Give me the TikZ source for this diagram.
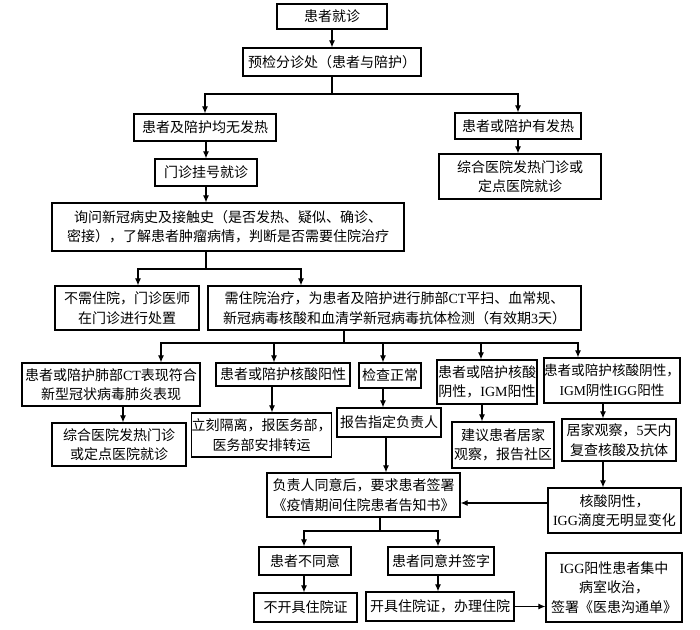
\documentclass[tikz,border=0pt]{standalone}
\usepackage{fontspec}
\setmainfont{Noto Sans CJK SC}
\newfontfamily\lat{Liberation Serif}
\usetikzlibrary{arrows.meta}
\begin{document}
\begin{tikzpicture}[x=1pt,y=-1pt,
  box/.style={draw=black,line width=1.2pt,inner sep=0pt,align=center,
    font=\fontsize{14}{19.5}\selectfont},
  arr/.style={line width=1.1pt,-{Latex[length=7pt,width=6pt]}},
  ln/.style={line width=1.1pt}]
\useasboundingbox[fill=white] (0,0) rectangle (700,629);
\node[box,minimum width=110pt,minimum height=25pt] (st) at (332,16.5) {患者就诊};
\node[box,minimum width=178pt,minimum height=28pt] (yj) at (332,62) {预检分诊处（患者与陪护）};
\node[box,minimum width=142pt,minimum height=27pt] (nf) at (205,127.5) {患者及陪护均无发热};
\node[box,minimum width=126pt,minimum height=26pt] (yf) at (518,126) {患者或陪护有发热};
\node[box,minimum width=102pt,minimum height=27pt] (mz) at (206,172.5) {门诊挂号就诊};
\node[box,minimum width=162pt,minimum height=45pt] (zh1) at (520,176.5) {综合医院发热门诊或\\定点医院就诊};
\node[box,minimum width=352pt,minimum height=48pt] (xw) at (228,227) {询问新冠病史及接触史（是否发热、疑似、确诊、\\密接），了解患者肿瘤病情，判断是否需要住院治疗};
\node[box,minimum width=144pt,minimum height=44pt] (bx) at (127,308) {不需住院，门诊医师\\在门诊进行处置};
\node[box,minimum width=373pt,minimum height=44pt] (xz) at (394.5,308) {需住院治疗，为患者及陪护进行肺部{\lat CT}平扫、血常规、\\新冠病毒核酸和血清学新冠病毒抗体检测（有效期{\lat 3}天）};
\node[box,minimum width=178pt,minimum height=43pt] (A) at (111,384.5) {患者或陪护肺部{\lat CT}表现符合\\新型冠状病毒肺炎表现};
\node[box,minimum width=134pt,minimum height=23pt] (B) at (283,374.5) {患者或陪护核酸阳性};
\node[box,minimum width=62pt,minimum height=25pt] (C) at (390,375.5) {检查正常};
\node[box,minimum width=100pt,minimum height=44pt] (D) at (487,382) {患者或陪护核酸\\阴性，{\lat IGM}阳性};
\node[box,minimum width=136pt,minimum height=45pt,font=\fontsize{13.6}{19.5}\selectfont] (E) at (612,380.5) {患者或陪护核酸阴性，\\{\lat IGM}阴性{\lat IGG}阳性};
\node[box,minimum width=134pt,minimum height=43pt] (zh2) at (119,444.5) {综合医院发热门诊\\或定点医院就诊};
\node[box,minimum width=135pt,minimum height=44pt] (gl) at (261.5,435) {立刻隔离，报医务部，\\医务部安排转运};
\node[box,minimum width=104pt,minimum height=29pt] (bg) at (389,422.5) {报告指定负责人};
\node[box,minimum width=102pt,minimum height=46pt] (jj) at (503,445) {建议患者居家\\观察，报告社区};
\node[box,minimum width=114pt,minimum height=42pt] (gc) at (619,440) {居家观察，{\lat 5}天内\\复查核酸及抗体};
\node[box,minimum width=193pt,minimum height=44pt] (fz) at (363.5,495) {负责人同意后，要求患者签署\\《疫情期间住院患者告知书》};
\node[box,minimum width=133pt,minimum height=45pt] (hs) at (614.5,510.5) {核酸阴性，\\{\lat IGG}滴度无明显变化};
\node[box,minimum width=92pt,minimum height=28pt] (bty) at (305,561) {患者不同意};
\node[box,minimum width=106pt,minimum height=28pt] (ty) at (441,561) {患者同意并签字};
\node[box,minimum width=103pt,minimum height=29pt] (bkj) at (305.5,607.5) {不开具住院证};
\node[box,minimum width=148pt,minimum height=29pt] (kj) at (440,606.5) {开具住院证，办理住院};
\node[box,minimum width=136pt,minimum height=69pt] (igg) at (614,587.5) {{\lat IGG}阳性患者集中\\病室收治，\\签署《医患沟通单》};
% junction coordinates
\coordinate (j1) at (332,94);
\coordinate (j2) at (206,269);
\coordinate (j3) at (344,343);
\coordinate (j4) at (380,531);
% connectors
\draw[arr] (st) -- (yj);
\draw[ln] (yj.south) -- (j1);
\draw[arr] (j1) -| (nf.north);
\draw[arr] (j1) -| (yf.north);
\draw[arr] (nf.south -| mz.north) -- (mz.north);
\draw[arr] (yf.south) -- (yf.south |- zh1.north);
\draw[arr] (mz.south) -- (mz.south |- xw.north);
\draw[ln] (mz.south |- xw.south) -- (j2);
\draw[arr] (j2) -| ([xshift=11pt]bx.north);
\draw[arr] (j2) -| ([xshift=-93.5pt]xz.north);
\draw[ln] ([xshift=-50.5pt]xz.south) -- (j3);
\draw[arr] (j3) -| ([xshift=50pt]A.north);
\draw[arr] (j3) -| ([xshift=-9pt]B.north);
\draw[arr] (j3) -| ([xshift=-7pt]C.north);
\draw[arr] (j3) -| ([xshift=-6pt]D.north);
\draw[arr] (j3) -| ([xshift=-34pt]E.north);
\draw[arr] ([xshift=12pt]A.south) -- ([xshift=12pt]A.south |- zh2.north);
\draw[arr] ([xshift=-11pt]B.south) -- ([xshift=-11pt]B.south |- gl.north);
\draw[arr] ([xshift=-7pt]C.south) -- ([xshift=-7pt]C.south |- bg.north);
\draw[arr] ([xshift=-3pt]bg.south) -- ([xshift=-3pt]bg.south |- fz.north);
\draw[arr] ([xshift=-5pt]D.south) -- ([xshift=-5pt]D.south |- jj.north);
\draw[arr] ([xshift=-9pt]E.south) -- ([xshift=-9pt]E.south |- gc.north);
\draw[arr] ([xshift=-16pt]gc.south) -- ([xshift=-16pt]gc.south |- hs.north);
\draw[arr] ([yshift=7.5pt]hs.west) -- ([yshift=7.5pt]hs.west -| fz.east);
\draw[ln] (j4 |- fz.south) -- (j4);
\draw[arr] (j4) -| ([xshift=-1pt]bty.north);
\draw[arr] (j4) -| ([xshift=-3pt]ty.north);
\draw[arr] ([xshift=-1pt]bty.south) -- ([xshift=-1pt]bty.south |- bkj.north);
\draw[arr] ([xshift=-3pt]ty.south) -- ([xshift=-3pt]ty.south |- kj.north);
\draw[arr] (kj.east) -- (kj.east -| igg.west);
\end{tikzpicture}
\end{document}
